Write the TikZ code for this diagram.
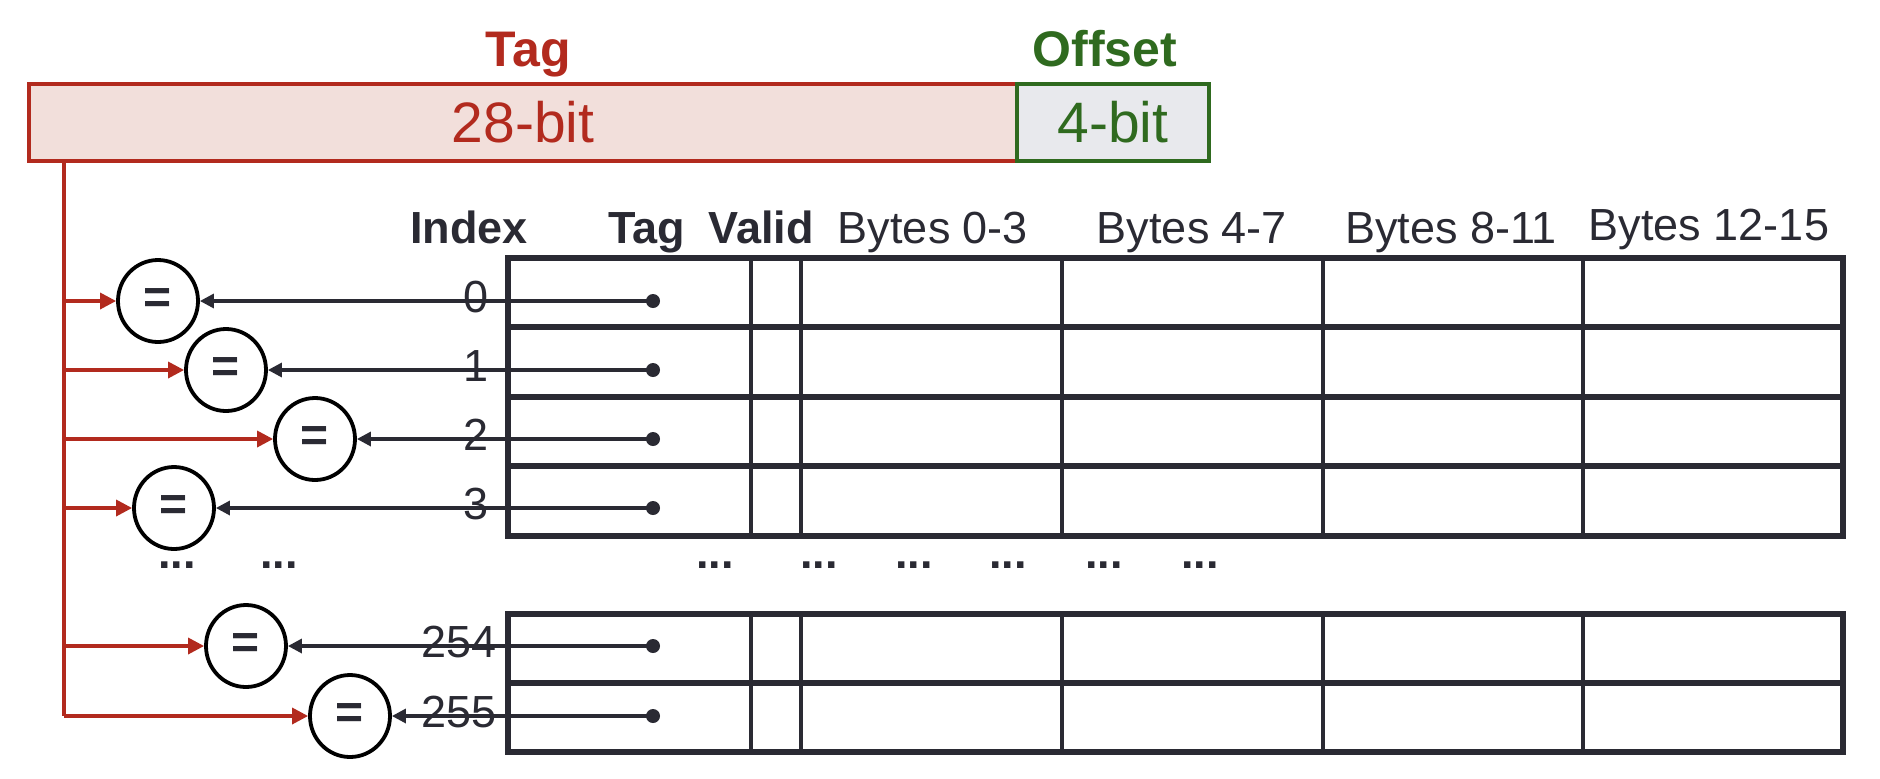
\documentclass[tikz,border=0pt]{standalone}
\usepackage{fontspec}
\setmainfont{Liberation Sans}
\usetikzlibrary{arrows.meta,shapes.geometric}
\definecolor{tagred}{HTML}{B22A1E}
\definecolor{tagfill}{HTML}{F2DFDB}
\definecolor{offgreen}{HTML}{2F6A1F}
\definecolor{offfill}{HTML}{E8E9ED}
\definecolor{ink}{HTML}{2A2A33}
\begin{document}
\begin{tikzpicture}[x=0.5pt,y=-0.5pt,
  hdr/.style={font=\fontsize{22.5}{27}\selectfont, text=ink, anchor=base, inner sep=0},
  hdrb/.style={font=\fontsize{22.5}{27}\selectfont\bfseries, text=ink, anchor=base, inner sep=0},
  idx/.style={font=\fontsize{22.5}{26}\selectfont, text=ink, anchor=east, inner sep=0},
  cmp/.style={ellipse, draw=black, line width=1.9pt, minimum width=40pt, minimum height=41pt, inner sep=0,
    font=\fontsize{24}{28}\selectfont\bfseries, text=ink},
  tdot/.style={circle, fill=ink, minimum size=7pt, inner sep=0},
  ellip/.style={font=\fontsize{22.5}{27}\selectfont\bfseries, text=ink, inner sep=0},
  redline/.style={draw=tagred, line width=1.7pt},
  redarrow/.style={redline, -{Triangle[length=8pt,width=8pt]}},
  blkarrow/.style={draw=ink, line width=1.6pt, -{Triangle[length=7pt,width=7pt]}},
  framew/.style={draw=ink, line width=2.8pt},
  hsep/.style={draw=ink, line width=3pt},
  vsep/.style={draw=ink, line width=2.2pt}]
\useasboundingbox[fill=white] (0,0) rectangle (1880,778);

% address fields
\node[draw=tagred, line width=1.6pt, fill=tagfill, minimum width=494pt, minimum height=38.5pt,
  inner sep=0, text=tagred, font=\fontsize{28.5}{32}\selectfont] (tagf) at (523,122.5) {28-bit};
\node[draw=offgreen, line width=1.6pt, fill=offfill, minimum width=96pt, minimum height=38.5pt,
  inner sep=0, text=offgreen, font=\fontsize{28.5}{32}\selectfont] (offf) at (1113,122.5) {4-bit};
\node[anchor=base, inner sep=0, text=tagred, font=\fontsize{25}{30}\selectfont\bfseries] (tagl) at (528,66) {Tag};
\node[anchor=base, inner sep=0, text=offgreen, font=\fontsize{25}{30}\selectfont\bfseries] (offl) at (1105,66) {Offset};

% column headers
\node[hdrb] (hidx) at (469,243) {Index};
\node[hdrb] (htag) at (647,243) {Tag};
\node[hdrb] (hval) at (761,243) {Valid};
\node[hdr] (hb0) at (933,243) {Bytes 0-3};
\node[hdr] (hb4) at (1192,243) {Bytes 4-7};
\node[hdr] (hb8) at (1451,243) {Bytes 8-11};
\node[hdr] (hb12) at (1709,240) {Bytes 12-15};

% cache arrays
\foreach \top/\bot in {258/536, 614/752} {
  \foreach \cx in {751,801,1062,1323,1583}
    \draw[vsep] (\cx,\top) -- (\cx,\bot);
  \draw[framew] (508,\top) rectangle (1843,\bot);
}
\foreach \ry in {327,397,466,683}
  \draw[hsep] (508,\ry) -- (1843,\ry);

% elision marks
\foreach \ex [count=\k] in {177,279,715,819,914,1008,1104,1200}
  \node[ellip] (dots\k) at (\ex,565) {...};

% tag bus
\coordinate (bustop) at (64,161);
\coordinate (busbot) at (64,716);
\draw[redline] (bustop) -- (busbot);

% comparators per set
\foreach \i/\y/\cx/\lab/\nx in {0/301/158/0/489, 1/370/226/1/489, 2/439/315/2/489,
                                3/508/174/3/489, 4/646/246/254/497, 5/716/350/255/497} {
  \node[cmp] (c\i) at (\cx,\y) {=};
  \node[idx] (n\i) at (\nx,\y-4) {\lab};
  \node[tdot] (d\i) at (653,\y) {};
  \coordinate (b\i) at (64,\y);
  \draw[redarrow] (b\i) -- (c\i);
  \draw[blkarrow] (d\i.center) -- (c\i);
}
\end{tikzpicture}
\end{document}
